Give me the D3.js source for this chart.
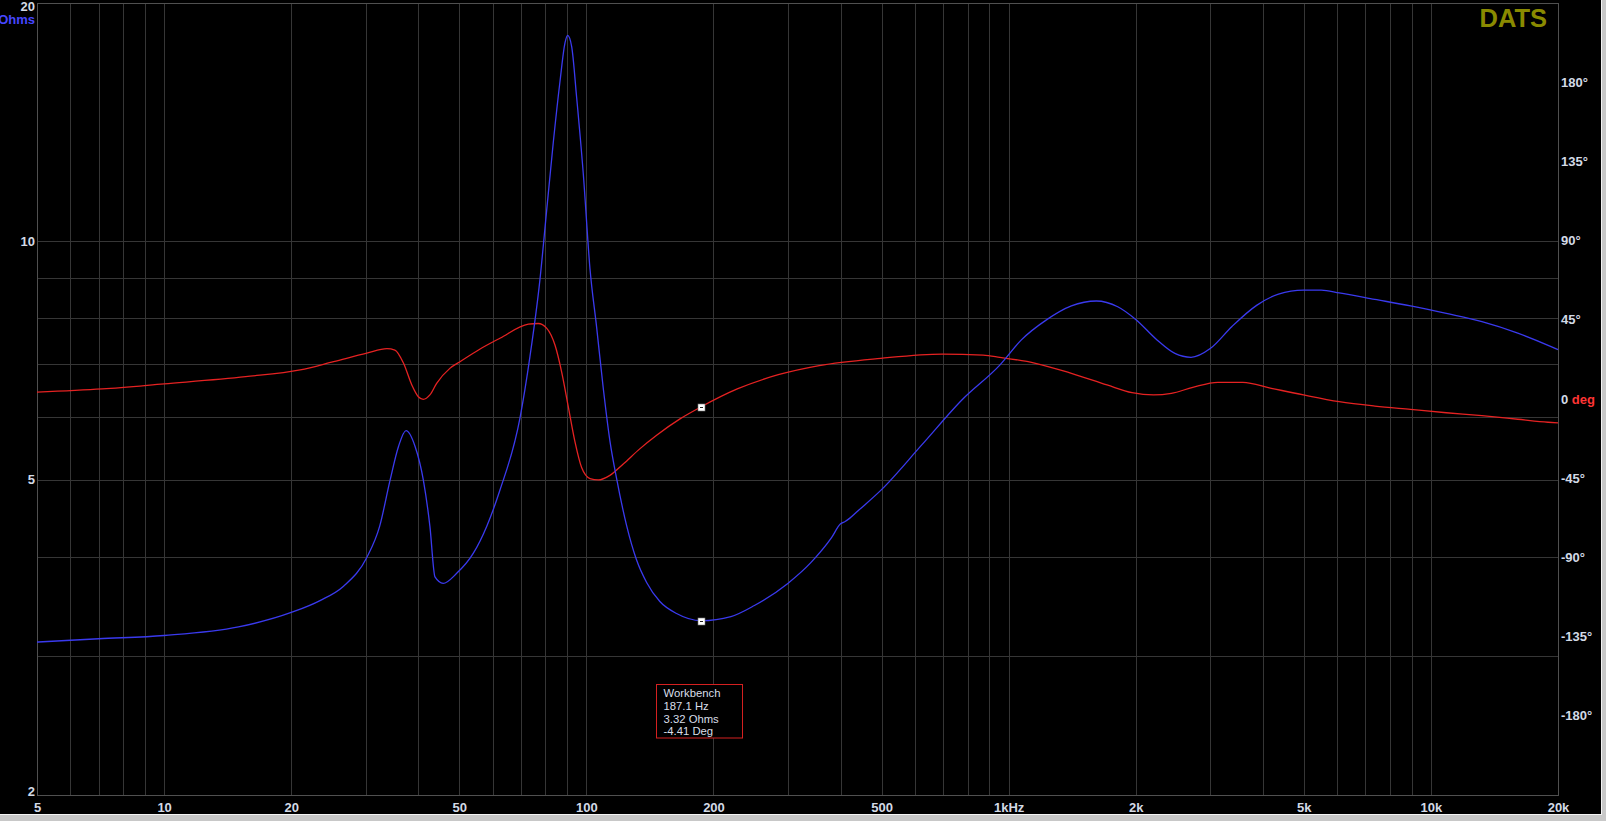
<!DOCTYPE html>
<html>
<head>
<meta charset="utf-8">
<script src="https://cdn.jsdelivr.net/npm/d3@7/dist/d3.min.js"></script>
<style>
  html, body { margin: 0; padding: 0; background: #c8c8c8; overflow: hidden; }
  svg { display: block; }
  text { font-family: Arial, "Liberation Sans", sans-serif; }
</style>
</head>
<body>
<svg id="chart" width="1606" height="821"></svg>
<script>
// ---------------- data ----------------
// Impedance magnitude (Ohms) vs frequency (Hz)
const impFreq = [5, 7, 10, 15, 20, 23.4, 26.6, 30.2, 32.4, 34.3, 35.9, 37.4, 39.3, 41.1, 42.6, 43.8, 45.8, 49.3, 54, 58.1, 62.4, 69.6, 73.5, 77.6, 80.5, 83.5, 86.6, 89.0, 90.3, 92.3, 94.8, 98.3, 102, 105.7, 109.6, 113.7, 118, 124.5, 131.5, 138.9, 149.3, 163.5, 187.1, 220, 250, 300, 340, 380, 400, 410, 420, 440, 500, 622, 778, 953, 1072, 1229, 1408, 1613, 1813, 2000, 2246, 2476, 2704, 3008, 3380, 3874, 4356, 4992, 5500, 6066, 7366, 8950, 10880, 13210, 16060, 19320, 20000];
const impOhms = [3.12, 3.15, 3.18, 3.26, 3.40, 3.52, 3.67, 3.99, 4.37, 5.0, 5.51, 5.77, 5.51, 5.0, 4.37, 3.77, 3.70, 3.81, 4.04, 4.37, 4.85, 5.98, 7.15, 8.93, 10.92, 13.34, 15.92, 17.81, 18.2, 17.62, 15.23, 12.2, 9.23, 7.81, 6.54, 5.60, 5.01, 4.38, 3.96, 3.71, 3.51, 3.39, 3.32, 3.36, 3.47, 3.70, 3.93, 4.22, 4.40, 4.43, 4.47, 4.57, 4.86, 5.53, 6.32, 6.98, 7.51, 7.96, 8.29, 8.41, 8.27, 7.97, 7.51, 7.22, 7.14, 7.33, 7.81, 8.31, 8.58, 8.68, 8.68, 8.61, 8.45, 8.29, 8.11, 7.92, 7.66, 7.36, 7.30];

// Phase (degrees) vs frequency (Hz)
const phaseFreq = [5, 7.14, 10, 15.6, 21, 25.2, 30.2, 33.7, 35.2, 36.9, 38.6, 40, 41.1, 42.6, 44.2, 47.5, 50.2, 55.9, 62.4, 72.9, 76.9, 80.5, 84.3, 87.4, 90.6, 93.9, 97.5, 102, 106.7, 113.7, 122.3, 134, 146.7, 166.6, 187.1, 227.7, 284.8, 356, 497.7, 696, 870, 953, 1158, 1408, 1710, 1960, 2203, 2428, 2730, 3130, 3586, 4189, 4992, 6066, 7366, 8950, 10880, 13210, 16060, 18940, 20000];
const phaseDeg = [3.9, 5.7, 8.6, 12.7, 16.5, 21.2, 26, 28.6, 27.8, 20.3, 8.0, 1.3, -0.2, 2.3, 8.9, 17.4, 21.2, 28.3, 34.5, 42.5, 42.9, 40.3, 30.5, 15.3, -4.3, -23.9, -39.1, -45.2, -46, -43.4, -36.9, -28.2, -20.6, -11.3, -4.41, 5.7, 13.8, 19.0, 23.1, 25.5, 24.9, 23.7, 20.3, 14.6, 8.0, 3.6, 2.3, 3.2, 6.6, 9.5, 9.5, 6.1, 2.3, -1.5, -4.0, -5.9, -7.8, -9.5, -11.5, -13.2, -13.6];

// Axis ticks / labels
const freqGrid = [5,6,7,8,9,10,20,30,40,50,60,70,80,90,100,200,300,400,500,600,700,800,900,1000,2000,3000,4000,5000,6000,7000,8000,9000,10000,20000];
const freqTicks = [5, 10, 20, 50, 100, 200, 500, 1000, 2000, 5000, 10000, 20000];
const freqLabels = ["5", "10", "20", "50", "100", "200", "500", "1kHz", "2k", "5k", "10k", "20k"];
const ohmGrid = [2, 3, 4, 5, 6, 7, 8, 9, 10, 20];
const ohmTicks = [20, 10, 5, 2];
const ohmLabels = ["20", "10", "5", "2"];
const phaseTicks = [180, 135, 90, 45, 0, -45, -90, -135, -180];
const phaseLabels = ["180°", "135°", "90°", "45°", "0", "-45°", "-90°", "-135°", "-180°"];

// Cursor readout
const cursorFreq = 187.1, cursorOhms = 3.32, cursorDeg = -4.41;
const cursorLines = ["Workbench", "187.1 Hz", "3.32 Ohms", "-4.41 Deg"];

// ---------------- layout ----------------
const L = 37, R = 1558, T = 3, B = 795;
const svg = d3.select("#chart");

const x = d3.scaleLog().domain([5, 20000]).range([L, R]);
const yZ = d3.scaleLog().domain([2, 20]).range([B, T]);
const yP = d3.scaleLinear().domain([-225, 225]).range([B, T]);

// window background
svg.append("rect").attr("x", 0).attr("y", 0).attr("width", 1601).attr("height", 814).attr("fill", "#000");
svg.append("line").attr("x1", 1601.5).attr("x2", 1601.5).attr("y1", 0).attr("y2", 815).attr("stroke", "#f4f4f4");
svg.append("line").attr("x1", 0).attr("x2", 1602).attr("y1", 814.5).attr("y2", 814.5).attr("stroke", "#f4f4f4");

// grid
const grid = svg.append("g").attr("stroke", "#363636").attr("stroke-width", 1).attr("shape-rendering", "crispEdges");
grid.selectAll("line.v").data(freqGrid).join("line")
  .attr("x1", d => Math.round(x(d)) + 0.5).attr("x2", d => Math.round(x(d)) + 0.5)
  .attr("y1", T).attr("y2", B);
grid.selectAll("line.h").data(ohmGrid).join("line")
  .attr("y1", d => Math.round(yZ(d)) + 0.5).attr("y2", d => Math.round(yZ(d)) + 0.5)
  .attr("x1", L).attr("x2", R);

// frame
svg.append("rect").attr("x", L + 0.5).attr("y", T + 0.5).attr("width", R - L).attr("height", B - T)
  .attr("fill", "none").attr("stroke", "#505050").attr("shape-rendering", "crispEdges");

const labelColor = "#d3dae6";

// bottom axis labels via d3 axis
const xAxis = d3.axisBottom(x).tickValues(freqTicks)
  .tickFormat((d, i) => freqLabels[i]).tickSize(0).tickPadding(0);
const gx = svg.append("g").attr("transform", `translate(0,${B})`).call(xAxis);
gx.select(".domain").remove();
gx.selectAll("text").attr("fill", labelColor).attr("font-size", 13).attr("font-weight", "bold")
  .attr("dy", null).attr("y", 16.5).attr("font-family", "Arial, 'Liberation Sans', sans-serif");

// left axis labels
const yAxisL = d3.axisLeft(yZ).tickValues(ohmTicks)
  .tickFormat((d, i) => ohmLabels[i]).tickSize(0).tickPadding(2);
const gl = svg.append("g").attr("transform", `translate(${L},0)`).call(yAxisL);
gl.select(".domain").remove();
gl.selectAll("text").attr("fill", labelColor).attr("font-size", 13).attr("font-weight", "bold")
  .attr("font-family", "Arial, 'Liberation Sans', sans-serif");
gl.selectAll(".tick").attr("transform", d => {
  let yy = yZ(d);
  if (yy < 8) yy = 6.5;
  if (yy > 790) yy = 792;
  return `translate(0,${yy})`;
});
svg.append("text").attr("x", L - 2).attr("y", 24).attr("text-anchor", "end")
  .attr("font-size", 13).attr("font-weight", "bold").attr("fill", "#4646ff").text("Ohms");

// right axis labels (phase)
const gr = svg.append("g");
phaseTicks.forEach((d, i) => {
  const t = gr.append("text").attr("x", R + 3).attr("y", yP(d)).attr("dy", "0.35em")
    .attr("font-size", 13).attr("font-weight", "bold").attr("fill", labelColor);
  t.append("tspan").text(phaseLabels[i]);
  if (d === 0) t.append("tspan").attr("fill", "#ff3434").text(" deg");
});

// DATS logo
svg.append("text").attr("x", 1547).attr("y", 27).attr("text-anchor", "end")
  .attr("font-size", 25.5).attr("font-weight", "bold").attr("fill", "#8a8a00").text("DATS");

// curves
const plot = svg.append("g");
const impData = impFreq.map((f, i) => [f, impOhms[i]]);
const phData = phaseFreq.map((f, i) => [f, phaseDeg[i]]);

plot.append("path").datum(phData)
  .attr("fill", "none").attr("stroke", "#e52222").attr("stroke-width", 1.3)
  .attr("d", d3.line().x(d => x(d[0])).y(d => yP(d[1])).curve(d3.curveMonotoneX));

plot.append("path").datum(impData)
  .attr("fill", "none").attr("stroke", "#3a3aee").attr("stroke-width", 1.3)
  .attr("d", d3.line().x(d => x(d[0])).y(d => yZ(d[1])).curve(d3.curveMonotoneX));

// cursor markers
[[x(cursorFreq), yP(cursorDeg)], [x(cursorFreq), yZ(cursorOhms)]].forEach(([cx, cy]) => {
  plot.append("rect").attr("x", Math.round(cx) - 3).attr("y", Math.round(cy) - 3)
    .attr("width", 7).attr("height", 7).attr("fill", "#ffffff").attr("stroke", "#777").attr("stroke-width", 0.6);
  plot.append("rect").attr("x", Math.round(cx) - 1).attr("y", Math.round(cy))
    .attr("width", 3).attr("height", 1).attr("fill", "#222");
});

// cursor readout box
const bx = 656.5, by = 684.5, bw = 86, bh = 53.5;
svg.append("rect").attr("x", bx).attr("y", by).attr("width", bw).attr("height", bh)
  .attr("fill", "#000").attr("stroke", "#d42020").attr("stroke-width", 1);
cursorLines.forEach((s, i) => {
  svg.append("text").attr("x", bx + 7).attr("y", by + 12.5 + i * 12.8)
    .attr("font-family", "'DejaVu Sans', Verdana, sans-serif").attr("font-size", 11.3)
    .attr("fill", "#d8dee8").text(s);
});
</script>
</body>
</html>
